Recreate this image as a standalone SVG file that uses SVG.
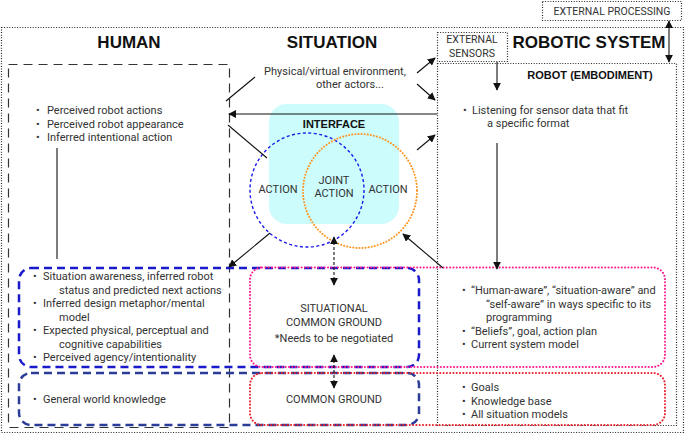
<svg xmlns="http://www.w3.org/2000/svg" width="685" height="436" viewBox="0 0 685 436">
<defs>
<style>
.t{font-family:Roboto,"Liberation Sans",Arial,sans-serif;font-size:11px;fill:#333}
.h{font-family:"Liberation Sans",Arial,sans-serif;font-weight:bold;font-size:17px;fill:#111}
.hs{font-family:"Liberation Sans",Arial,sans-serif;font-weight:bold;font-size:11px;fill:#111}
.m{text-anchor:middle}
.dot{fill:none;stroke:#222;stroke-width:1.2;stroke-dasharray:1 1.6}
.ln{fill:none;stroke:#111;stroke-width:1.1}
.ar{fill:none;stroke:#111;stroke-width:1.1;marker-end:url(#ah)}
.ar2{fill:none;stroke:#111;stroke-width:1.1;marker-end:url(#ah);marker-start:url(#ahs)}
.dar{fill:none;stroke:#111;stroke-width:1.1;stroke-dasharray:3 2;marker-end:url(#ah);marker-start:url(#ahs)}
</style>
<marker id="ah" viewBox="0 0 10 10" refX="9" refY="5" markerWidth="8" markerHeight="8" markerUnits="userSpaceOnUse" orient="auto"><path d="M0,0 L10,5 L0,10 z" fill="#111"/></marker>
<marker id="ahs" viewBox="0 0 10 10" refX="1" refY="5" markerWidth="8" markerHeight="8" markerUnits="userSpaceOnUse" orient="auto"><path d="M10,0 L0,5 L10,10 z" fill="#111"/></marker>
</defs>

<g id="frames">
<rect x="1.5" y="27.5" width="682" height="405" class="dot"/>
<rect x="437.5" y="63.5" width="239" height="362" class="dot"/>
<rect x="8.5" y="64.5" width="221" height="363" fill="none" stroke="#333" stroke-width="1.2" stroke-dasharray="9 6"/>
</g>

<g id="external-processing">
<rect x="542.5" y="1.5" width="139" height="19" class="dot"/>
<text x="612" y="15" class="t m" style="font-size:10.5px">EXTERNAL PROCESSING</text>
</g>
<g id="external-sensors">
<rect x="437.5" y="32.5" width="70" height="29" class="dot" style="fill:#fff"/>
<text x="472" y="43" class="t m" style="font-size:10.5px">EXTERNAL</text>
<text x="472" y="57" class="t m" style="font-size:10.5px">SENSORS</text>
</g>

<g id="headings">
<text x="129" y="48" class="h m">HUMAN</text>
<text x="332" y="48" class="h m">SITUATION</text>
<text x="589" y="48" class="h m">ROBOTIC SYSTEM</text>
<text x="590" y="79" class="hs m">ROBOT (EMBODIMENT)</text>
</g>

<g id="interface">
<rect x="269" y="104" width="130" height="120" rx="18" fill="#ccfcfc"/>
<text x="334" y="128" class="hs m">INTERFACE</text>
<circle cx="307" cy="190" r="57" fill="none" stroke="#1a1aee" stroke-width="1.4" stroke-dasharray="3 2.5"/>
<circle cx="360" cy="191" r="57" fill="none" stroke="#ff9420" stroke-width="2" stroke-dasharray="0.1 3" stroke-linecap="round"/>
<text x="278" y="193" class="t m">ACTION</text>
<text x="334" y="184" class="t m">JOINT</text>
<text x="334" y="197" class="t m">ACTION</text>
<text x="388" y="193" class="t m">ACTION</text>
</g>

<g id="situation-env">
<text x="335" y="75" class="t m">Physical/virtual environment,</text>
<text x="316" y="88" class="t">other actors...</text>
</g>

<g id="human-perceived">
<text class="t"><tspan x="36" y="114">•</tspan><tspan x="47" y="114">Perceived robot actions</tspan></text>
<text class="t"><tspan x="36" y="127.5">•</tspan><tspan x="47" y="127.5">Perceived robot appearance</tspan></text>
<text class="t"><tspan x="36" y="141">•</tspan><tspan x="47" y="141">Inferred intentional action</tspan></text>
</g>

<g id="robot-listening">
<text class="t"><tspan x="463" y="114">•</tspan><tspan x="472" y="114">Listening for sensor data that fit</tspan></text>
<text x="487" y="127" class="t">a specific format</text>
</g>

<g id="human-situational">
<rect x="19" y="268" width="400" height="99" rx="12" fill="none" stroke="#1a1acc" stroke-width="2.5" stroke-dasharray="8 5"/>
<text class="t"><tspan x="33" y="280">•</tspan><tspan x="43" y="280">Situation awareness, inferred robot</tspan></text>
<text x="59" y="293.5" class="t">status and predicted next actions</text>
<text class="t"><tspan x="33" y="307">•</tspan><tspan x="43" y="307">Inferred design metaphor/mental</tspan></text>
<text x="59" y="320.5" class="t">model</text>
<text class="t"><tspan x="33" y="334">•</tspan><tspan x="43" y="334">Expected physical, perceptual and</tspan></text>
<text x="59" y="347.5" class="t">cognitive capabilities</text>
<text class="t"><tspan x="33" y="361">•</tspan><tspan x="43" y="361">Perceived agency/intentionality</tspan></text>
</g>

<g id="human-common">
<rect x="19" y="373" width="400" height="52" rx="12" fill="none" stroke="#2b3c99" stroke-width="2.5" stroke-dasharray="8 5"/>
<text class="t"><tspan x="33" y="403">•</tspan><tspan x="43" y="403">General world knowledge</tspan></text>
</g>

<g id="robot-situational">
<rect x="250" y="267.5" width="415" height="99.5" rx="12" fill="none" stroke="#ff1a8c" stroke-width="2" stroke-dasharray="0.1 3.2" stroke-linecap="round"/>
<text class="t"><tspan x="462" y="294">•</tspan><tspan x="471" y="294">“Human-aware”, “situation-aware” and</tspan></text>
<text x="486" y="307.5" class="t">“self-aware” in ways specific to its</text>
<text x="486" y="321" class="t">programming</text>
<text class="t"><tspan x="462" y="334.5">•</tspan><tspan x="471" y="334.5">“Beliefs”, goal, action plan</tspan></text>
<text class="t"><tspan x="462" y="348">•</tspan><tspan x="471" y="348">Current system model</tspan></text>
</g>

<g id="robot-common">
<rect x="250" y="373" width="415" height="52" rx="12" fill="none" stroke="#e8202a" stroke-width="2" stroke-dasharray="0.1 3.2" stroke-linecap="round"/>
<text class="t"><tspan x="462" y="391">•</tspan><tspan x="471" y="391">Goals</tspan></text>
<text class="t"><tspan x="462" y="404.5">•</tspan><tspan x="471" y="404.5">Knowledge base</tspan></text>
<text class="t"><tspan x="462" y="418">•</tspan><tspan x="471" y="418">All situation models</tspan></text>
</g>

<g id="situational-common-ground">
<text x="334" y="312" class="t m">SITUATIONAL</text>
<text x="334" y="326" class="t m">COMMON GROUND</text>
<text x="334" y="342" class="t m">*Needs to be negotiated</text>
</g>
<g id="common-ground">
<text x="334" y="403" class="t m">COMMON GROUND</text>
</g>

<g id="connectors">
<line x1="255" y1="77" x2="226" y2="101" class="ln"/>
<line x1="437" y1="114" x2="229" y2="114" class="ar"/>
<line x1="228" y1="125" x2="267" y2="158" class="ln"/>
<line x1="270" y1="233" x2="229" y2="267" class="ar"/>
<line x1="417" y1="73" x2="435" y2="58" class="ar"/>
<line x1="417" y1="84" x2="435" y2="100" class="ar"/>
<line x1="417" y1="150" x2="435" y2="135" class="ar"/>
<line x1="443" y1="268" x2="403" y2="234" class="ar"/>
<line x1="497" y1="62" x2="497" y2="90" class="ar"/>
<line x1="497" y1="143" x2="497" y2="269" class="ar"/>
<line x1="57" y1="148" x2="57" y2="259" class="ln"/>
<line x1="334" y1="237" x2="334" y2="285" class="dar"/>
<line x1="334" y1="355" x2="334" y2="388" class="dar"/>
<line x1="669" y1="21" x2="669" y2="62" class="ar2"/>
</g>
</svg>
